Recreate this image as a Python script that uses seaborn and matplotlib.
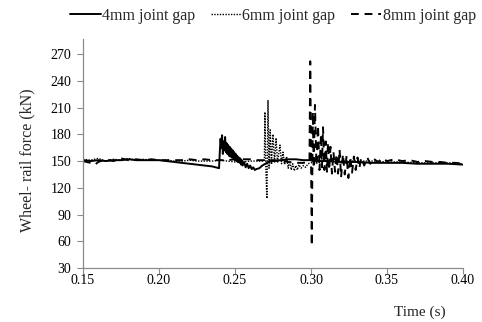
import matplotlib
matplotlib.use("Agg")
import matplotlib.pyplot as plt
import seaborn as sns
import pandas as pd

# ---- data ----
t4 = [0.150, 0.155, 0.160, 0.165, 0.170, 0.175, 0.180, 0.185, 0.190, 0.195, 0.200, 0.205, 0.210, 0.215,
      0.220, 0.225, 0.230, 0.235, 0.2395,
      0.2400, 0.2405, 0.2410, 0.2415, 0.2420, 0.2425, 0.2430, 0.2435, 0.2440, 0.2445, 0.2450, 0.2455,
      0.2460, 0.2465, 0.2470, 0.2475, 0.2480, 0.2485, 0.2490, 0.2495, 0.2500, 0.2505, 0.2510, 0.2515,
      0.2520, 0.2525, 0.2530, 0.2535, 0.2540, 0.2545, 0.2550, 0.2560, 0.2570, 0.2580, 0.2590, 0.2600,
      0.2610, 0.2620, 0.2630, 0.2640, 0.2660, 0.2680, 0.2700, 0.2720, 0.2750, 0.280,
      0.285, 0.290, 0.295, 0.300, 0.305, 0.310, 0.320, 0.330, 0.340, 0.350, 0.360, 0.370, 0.380, 0.390, 0.400]
f4 = [151, 150, 151, 150, 151, 151, 152, 151, 151, 151, 151, 150, 149, 148,
      147, 146, 145, 144, 142,
      160, 175, 165, 179, 158, 172, 162, 177, 160, 170, 158, 168,
      156, 166, 155, 164, 154, 162, 153, 160, 151, 158, 150, 156,
      149, 154, 148, 153, 146, 151, 145, 149, 143, 147, 142, 145,
      141, 143, 140, 141, 142, 145, 147, 149, 150, 151,
      152, 152, 151, 151, 150, 150, 149, 149, 148, 148, 148, 147, 147, 147, 146]

t6 = [0.150, 0.155, 0.160, 0.165, 0.170, 0.175, 0.180, 0.185, 0.190, 0.195, 0.200, 0.205, 0.210, 0.215,
      0.220, 0.225, 0.230, 0.235, 0.240, 0.245, 0.250, 0.255, 0.260, 0.265, 0.268,
      0.2693, 0.2697, 0.2703, 0.2710, 0.2717, 0.2724, 0.2732, 0.2740, 0.2750, 0.2760, 0.2770, 0.2780,
      0.2796, 0.2806, 0.2816, 0.2826, 0.2840, 0.2850, 0.2860, 0.2870, 0.2880, 0.2890, 0.2900, 0.2910,
      0.2920, 0.2935, 0.2950, 0.2965, 0.2980, 0.300, 0.302, 0.305, 0.310, 0.320, 0.330, 0.340, 0.350,
      0.360, 0.370, 0.380, 0.390, 0.400]
f6 = [152, 151, 153, 150, 152, 151, 153, 151, 152, 151, 151, 151, 150, 150,
      151, 150, 150, 150, 151, 150, 149, 149, 150, 150, 150,
      150, 205, 140, 108, 218, 142, 185, 146, 180, 148, 176, 148,
      168, 147, 160, 146, 155, 142, 150, 140, 147, 139, 145, 140,
      146, 142, 145, 143, 147, 148, 150, 150, 151, 150, 150, 150, 149,
      149, 148, 148, 148, 147]

t8 = [0.150, 0.155, 0.158, 0.160, 0.165, 0.170, 0.175, 0.180, 0.185, 0.190, 0.195, 0.200, 0.205, 0.210,
      0.215, 0.220, 0.225, 0.230, 0.235, 0.240, 0.245, 0.250, 0.255, 0.260, 0.265, 0.270, 0.275, 0.280,
      0.285, 0.290, 0.295, 0.2985, 0.2990, 0.2995, 0.3005,
      0.3012, 0.3018, 0.3026, 0.3036, 0.3046, 0.3056, 0.3066, 0.3072, 0.3079, 0.3088, 0.3097, 0.3105,
      0.3112, 0.3120, 0.3128, 0.3138, 0.3148, 0.3158, 0.3168, 0.3178, 0.3188, 0.3198, 0.3210, 0.3222,
      0.3234, 0.3246, 0.3258, 0.3270, 0.3282, 0.3294, 0.3306, 0.3318, 0.3330, 0.3350, 0.3370, 0.3390,
      0.3410, 0.3440, 0.3470, 0.350, 0.355, 0.360, 0.365, 0.370, 0.375, 0.380, 0.385, 0.390, 0.395, 0.400]
f8 = [150, 148, 146, 149, 152, 150, 153, 151, 152, 151, 152, 151, 151, 151,
      151, 152, 151, 152, 151, 151, 151, 152, 152, 152, 151, 151, 151, 150,
      149, 148, 148, 149, 150, 262, 55,
      205, 142, 213, 145, 190, 140, 180, 143, 188, 140, 172, 138,
      171, 140, 166, 136, 160, 138, 158, 136, 163, 132, 158, 135,
      156, 131, 155, 137, 155, 140, 154, 142, 154, 145, 154, 147,
      153, 149, 153, 150, 152, 150, 151, 149, 150, 149, 149, 148, 148, 147]

series_names = ["4mm joint gap", "6mm joint gap", "8mm joint gap"]
x_ticks = [0.15, 0.20, 0.25, 0.30, 0.35, 0.40]
y_ticks = [30, 60, 90, 120, 150, 180, 210, 240, 270]

sns.set_theme(style="white")
plt.rcParams["font.family"] = ["Liberation Serif", "DejaVu Serif"]

fig = plt.figure(figsize=(4.82, 3.22), dpi=100)
ax = fig.add_axes([83 / 482, 1 - 268 / 322, 380 / 482, (268 - 39) / 322])

styles = [dict(linestyle="-", linewidth=1.4),
          dict(linestyle=(0, (1, 1)), linewidth=1.0),
          dict(linestyle=(0, (4, 3)), linewidth=1.4)]
for (tt, ff), name, st in zip([(t4, f4), (t6, f6), (t8, f8)], series_names, styles):
    df = pd.DataFrame({"t": tt, "f": ff})
    sns.lineplot(data=df, x="t", y="f", ax=ax, color="black", label=name, **st)

ax.set_xlim(0.15, 0.40)
ax.set_ylim(30, 287)
ax.set_xticks(x_ticks)
ax.set_xticklabels([f"{v:.2f}" for v in x_ticks])
ax.set_yticks(y_ticks)
ax.set_yticklabels([str(v) for v in y_ticks])
for s in ["top", "right"]:
    ax.spines[s].set_visible(False)
for s in ["left", "bottom"]:
    ax.spines[s].set_color("#8c8c8c")
    ax.spines[s].set_linewidth(0.9)
ax.tick_params(axis="both", which="major", direction="out", length=4, width=0.8,
               color="#8c8c8c", labelsize=10, labelcolor="black", bottom=True, left=True)
ax.tick_params(axis="x", pad=0.5)
ax.tick_params(axis="y", pad=4.5)
ax.set_xlabel("")
ax.set_ylabel("")
fig.text(27 / 482, 1 - 160 / 322, "Wheel- rail force (kN)", fontsize=11.5, rotation=90,
         ha="center", va="center")
fig.text(420 / 482, 1 - 312 / 322, "Time (s)", fontsize=11, ha="center", va="center")

ax.legend_.remove()
handles, labels = ax.get_legend_handles_labels()
fig.legend(handles, labels, loc="center", bbox_to_anchor=(273 / 482, 1 - 16 / 322), ncol=3,
           frameon=False, fontsize=11.5, handlelength=1.9, handletextpad=0.1, columnspacing=0.95)

fig.savefig("out.png", dpi=100)
